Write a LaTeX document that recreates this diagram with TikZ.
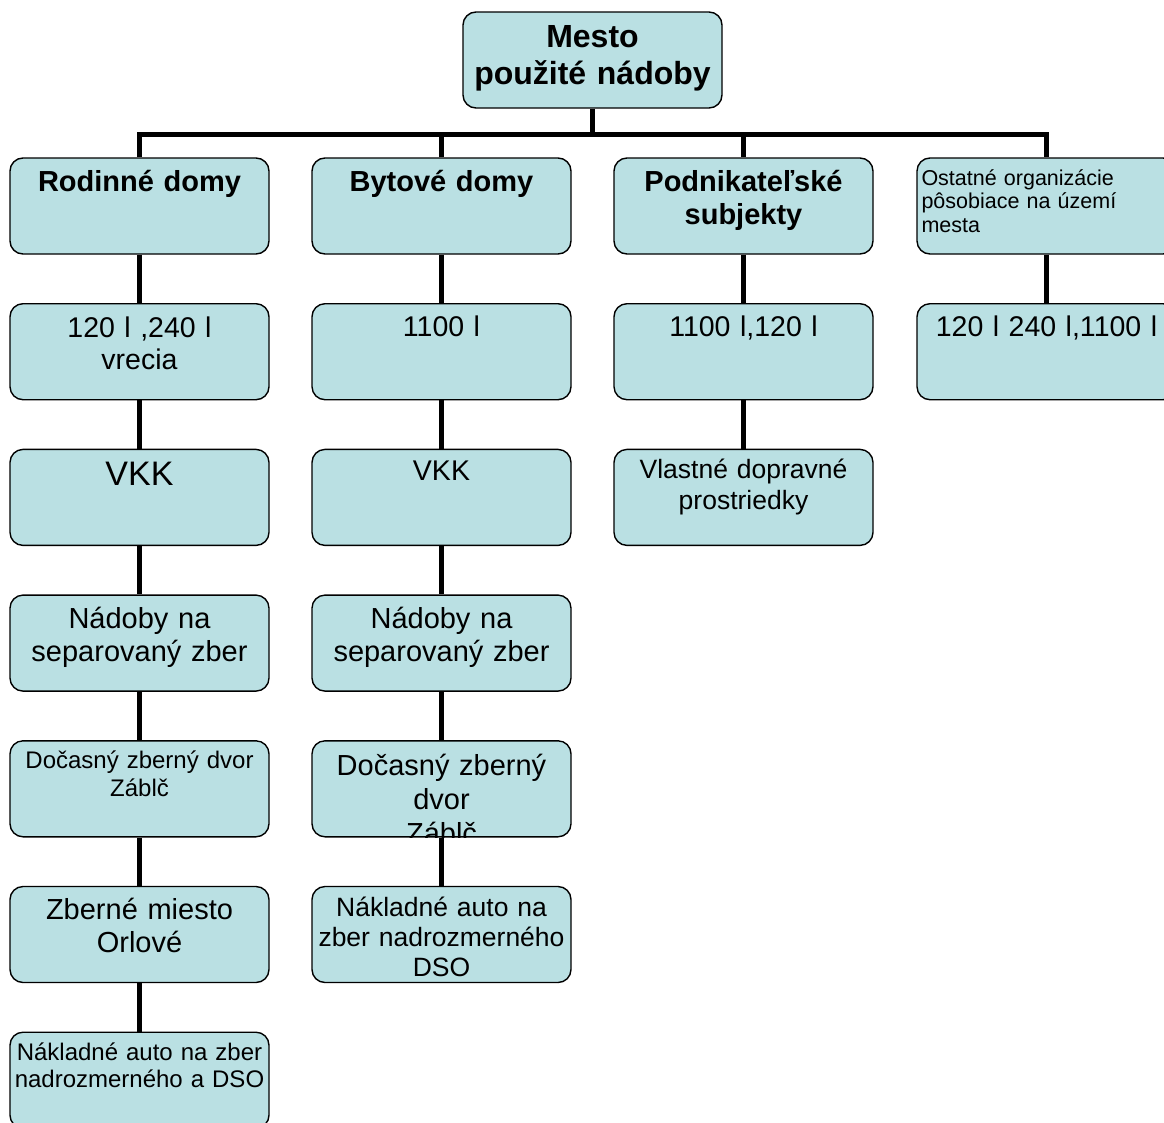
\documentclass[tikz,border=0pt]{standalone}
\usepackage{fontspec}
\setmainfont{Liberation Sans}
\usepackage{xcolor}
\usepackage{tikz}
\usetikzlibrary{positioning}
\definecolor{boxfill}{RGB}{186,224,227}
\tikzstyle{box} = [rectangle, rounded corners=13pt,
minimum width=259pt,
minimum height=96pt,
draw=black,
line width=1.4pt,
fill=boxfill]
\tikzstyle{txt} = [text width=255pt,
align=center,
inner sep=0pt,
anchor=base]
\tikzstyle{link} = [line width=5pt]
\newcommand{\txtsize}[2]{\fontsize{#1}{#2}\selectfont}

\begin{document}
\begin{tikzpicture}[x=1pt, y=1pt, node distance=145.7pt]
\useasboundingbox (0,0) rectangle (1164,-1122);

\node (mesto) [box] at (592.5,-60) {};
\node (rd) [box] at (139.5,-206) {};
\node (bd) [box, right of=rd, xshift=156.3pt] {};
\node (pk) [box, right of=bd, xshift=156.3pt] {};
\node (os) [box, right of=pk, xshift=157.3pt] {};

% column Rodinne domy
\node (rd1) [box, below of=rd] {};
\node (rd2) [box, below of=rd1] {};
\node (rd3) [box, below of=rd2] {};
\node (rd4) [box, below of=rd3] {};
\node (rd5) [box, below of=rd4] {};
\node (rd6) [box, below of=rd5] {};
% column Bytove domy
\node (bd1) [box, below of=bd] {};
\node (bd2) [box, below of=bd1] {};
\node (bd3) [box, below of=bd2] {};
\node (bd4) [box, below of=bd3] {};
\node (bd5) [box, below of=bd4] {};
% other columns
\node (pk1) [box, below of=pk] {};
\node (pk2) [box, below of=pk1] {};
\node (os1) [box, below of=os] {};

% texts
\node (mestot) [txt, font=\bfseries\txtsize{32}{37}] at ([yshift=-36pt]mesto.north) {Mesto\\použité nádoby};
\node (rdt) [txt, font=\bfseries\txtsize{29}{33}] at ([yshift=-34pt]rd.north) {Rodinné domy};
\node (bdt) [txt, font=\bfseries\txtsize{29}{33}] at ([yshift=-34pt]bd.north) {Bytové domy};
\node (pkt) [txt, font=\bfseries\txtsize{29}{33}] at ([yshift=-34pt]pk.north) {Podnikateľské\\subjekty};
\node (ost) [txt, align=left, text width=245pt, anchor=base west, font=\txtsize{21.5}{23.5}] at ([xshift=5pt,yshift=-28pt]os.north west) {Ostatné organizácie\\pôsobiace na území\\mesta};

\node (rd1t) [txt, font=\txtsize{28.5}{32}] at ([yshift=-34pt]rd1.north) {120 l ,240 l\\vrecia};
\node (rd2t) [txt, font=\txtsize{34}{38}] at ([yshift=-37pt]rd2.north) {VKK};
\node (rd3t) [txt, font=\txtsize{29}{33}] at ([yshift=-34pt]rd3.north) {Nádoby na\\separovaný zber};
\node (rd4t) [txt, font=\txtsize{24}{28}] at ([yshift=-28pt]rd4.north) {Dočasný zberný dvor\\Záblč};
\node (rd5t) [txt, font=\txtsize{29}{33}] at ([yshift=-34pt]rd5.north) {Zberné miesto\\Orlové};
\node (rd6t) [txt, font=\txtsize{24}{27}] at ([yshift=-29pt]rd6.north) {Nákladné auto na zber\\nadrozmerného a DSO};

\node (bd1t) [txt, font=\txtsize{28.5}{32}] at ([yshift=-33pt]bd1.north) {1100 l};
\node (bd2t) [txt, font=\txtsize{28.5}{32}] at ([yshift=-32pt]bd2.north) {VKK};
\node (bd3t) [txt, font=\txtsize{29}{33}] at ([yshift=-34pt]bd3.north) {Nádoby na\\separovaný zber};
\begin{scope}
\clip [rounded corners=13pt] (bd4.south west) rectangle (bd4.north east);
\node (bd4t) [txt, font=\txtsize{29}{34}] at ([yshift=-35pt]bd4.north) {Dočasný zberný\\dvor\\Záblč};
\end{scope}
\node (bd5t) [txt, font=\txtsize{26.5}{30}] at ([yshift=-31pt]bd5.north) {Nákladné auto na\\zber nadrozmerného\\DSO};

\node (pk1t) [txt, font=\txtsize{28.5}{32}] at ([yshift=-33pt]pk1.north) {1100 l,120 l};
\node (pk2t) [txt, font=\txtsize{26.5}{31}] at ([yshift=-30pt]pk2.north) {Vlastné dopravné\\prostriedky};
\node (os1t) [txt, font=\txtsize{28.5}{32}] at ([yshift=-33pt]os1.north) {120 l 240 l,1100 l};

% bus
\coordinate (busl) at ([yshift=23pt]rd.north);
\coordinate (busr) at ([yshift=23pt]os.north);
\draw [link] (rd.north) -- (busl) -- (busr) -- (os.north);
\draw [link] (mesto.south) -- (mesto.south |- busl);
\draw [link] (bd.north) -- (bd.north |- busl);
\draw [link] (pk.north) -- (pk.north |- busl);

% columns
\draw [link] (rd) -- (rd1);
\draw [link] (rd1) -- (rd2);
\draw [link] (rd2) -- (rd3);
\draw [link] (rd3) -- (rd4);
\draw [link] (rd4) -- (rd5);
\draw [link] (rd5) -- (rd6);
\draw [link] (bd) -- (bd1);
\draw [link] (bd1) -- (bd2);
\draw [link] (bd2) -- (bd3);
\draw [link] (bd3) -- (bd4);
\draw [link] (bd4) -- (bd5);
\draw [link] (pk) -- (pk1);
\draw [link] (pk1) -- (pk2);
\draw [link] (os) -- (os1);

\end{tikzpicture}
\end{document}
